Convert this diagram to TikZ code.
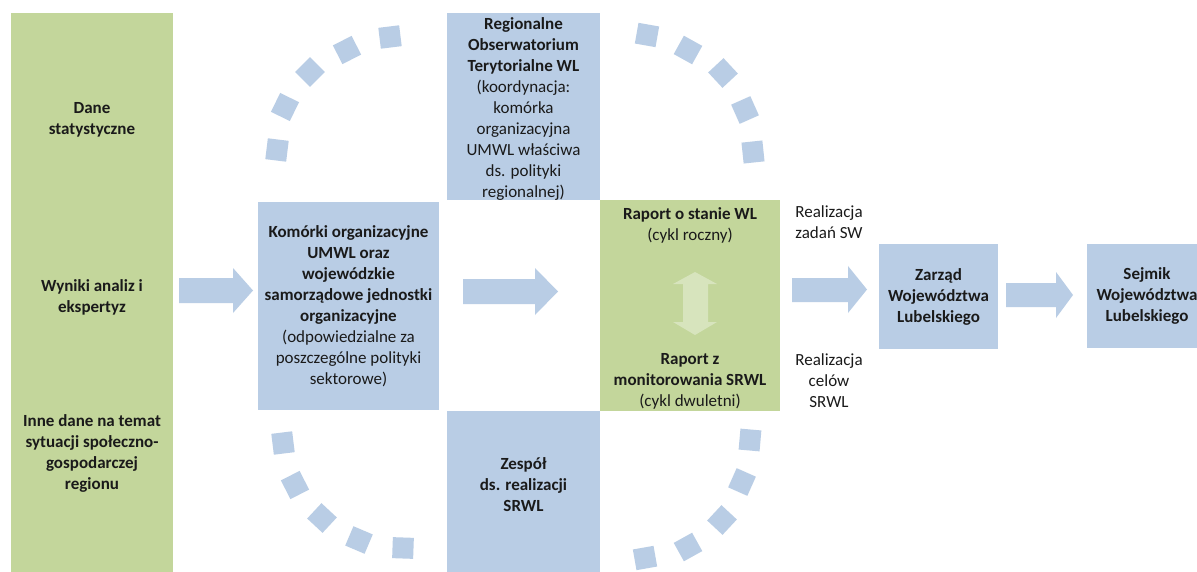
\documentclass[tikz,border=0pt]{standalone}
\usepackage{fontspec}
\setmainfont{Carlito}
\definecolor{boxblue}{HTML}{B9CDE5}
\definecolor{boxgreen}{HTML}{C3D69B}
\definecolor{lightgreen}{HTML}{D7E4BD}
\definecolor{txt}{HTML}{1A1A1A}
\tikzset{
  txtnode/.style={inner sep=0pt, align=center, text=txt, font=\fontsize{17}{21}\selectfont},
  bluebox/.style={fill=boxblue, inner sep=0pt},
  greenbox/.style={fill=boxgreen, inner sep=0pt},
  sq/.style={fill=boxblue, minimum size=21pt, inner sep=0pt},
  blockarrow/.style={fill=boxblue},
}
\begin{document}
\begin{tikzpicture}[x=1pt,y=-1pt]
\useasboundingbox (0,0) rectangle (1197,572);
\clip (0,0) rectangle (1197,572);
\fill[white] (0,0) rectangle (1197,572);

% dotted rounded outline made of squares
\foreach \px/\py/\r in {277/150/173, 285/107/154, 310/72/135, 347/50/117, 390/37/97,
  753/152/6, 745/110/24, 723/73/43, 688/50/61, 647/35/80,
  283/443/187, 295/485/207, 322/518/227, 359/540/247, 403/548/268,
  750/440/-5, 742/482/-24, 722/520/-43, 688/547/-61, 645/558/-80}
  \node[sq, rotate=\r] at (\px,\py) {};

% boxes
\node[greenbox, minimum width=162pt, minimum height=572pt] (inputs) at (92,299) {};
\node[bluebox, minimum width=153pt, minimum height=187pt] (rot) at (523.5,106.5) {};
\node[bluebox, minimum width=181pt, minimum height=208pt] (kom) at (348.5,306) {};
\node[greenbox, minimum width=180pt, minimum height=211pt] (raport) at (690,305.5) {};
\node[bluebox, minimum width=153pt, minimum height=175pt] (zesp) at (523.5,498.5) {};
\node[bluebox, minimum width=119pt, minimum height=105pt] (zarzad) at (938.5,296.5) {};
\node[bluebox, minimum width=120pt, minimum height=104pt] (sejmik) at (1147,296) {};

% texts in the green column
\node[txtnode, font=\fontsize{17}{21}\selectfont\bfseries] (t1) at (92,120) {Dane\\statystyczne};
\node[txtnode, font=\fontsize{17}{21}\selectfont\bfseries] (t2) at (92,297) {Wyniki analiz i\\ekspertyz};
\node[txtnode, font=\fontsize{17}{21}\selectfont\bfseries] (t3) at (92,453) {Inne dane na temat\\sytuacji społeczno-\\gospodarczej\\regionu};

% box texts
\node[txtnode] (rotText) at (523.5,109) {\textbf{Regionalne}\\\textbf{Obserwatorium}\\\textbf{Terytorialne WL}\\(koordynacja:\\komórka\\organizacyjna\\UMWL właściwa\\ds. polityki\\regionalnej)};
\node[txtnode] (komText) at (348.5,306) {\textbf{Komórki organizacyjne}\\\textbf{UMWL oraz}\\\textbf{wojewódzkie}\\\textbf{samorządowe jednostki}\\\textbf{organizacyjne}\\(odpowiedzialne za\\poszczególne polityki\\sektorowe)};
\node[txtnode] (r1Text) at (690,225) {\textbf{Raport o stanie WL}\\(cykl roczny)};
\node[txtnode] (r2Text) at (690,381) {\textbf{Raport z}\\\textbf{monitorowania SRWL}\\(cykl dwuletni)};
\node[txtnode, font=\fontsize{17}{21}\selectfont\bfseries] (zespText) at (523.5,485) {Zespół\\ds. realizacji\\SRWL};
\node[txtnode, font=\fontsize{17}{21}\selectfont\bfseries] (zarzadText) at (zarzad.center) {Zarząd\\Województwa\\Lubelskiego};
\node[txtnode, font=\fontsize{17}{21}\selectfont\bfseries] (sejmikText) at (sejmik.center) {Sejmik\\Województwa\\Lubelskiego};

% side labels
\node[txtnode] (lab1) at (829,222.5) {Realizacja\\zadań SW};
\node[txtnode] (lab2) at (829,381) {Realizacja\\celów\\SRWL};

% block arrows
\fill[blockarrow] (179,278) -- (233,278) -- (233,268) -- (253,290.5) -- (233,313) -- (233,303) -- (179,303) -- cycle;
\fill[blockarrow] (463,279) -- (535,279) -- (535,268) -- (558,291.5) -- (535,315) -- (535,304) -- (463,304) -- cycle;
\fill[blockarrow] (792,278) -- (848,278) -- (848,266) -- (867,289.5) -- (848,313) -- (848,302) -- (792,302) -- cycle;
\fill[blockarrow] (1006,283) -- (1056,283) -- (1056,272) -- (1073,295) -- (1056,318) -- (1056,307) -- (1006,307) -- cycle;

% double arrow inside the report box
\fill[lightgreen] (695,272) -- (717,284) -- (708,284) -- (708,322) -- (717,322) -- (695,335) -- (673,322) -- (683,322) -- (683,284) -- (673,284) -- cycle;
\end{tikzpicture}
\end{document}
